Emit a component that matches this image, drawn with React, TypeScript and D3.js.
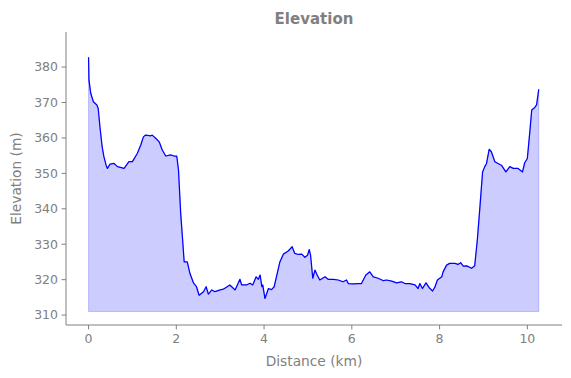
import React from "react";
import * as d3 from "d3";

const distanceKm = [
  0, 0.01, 0.05, 0.11, 0.19, 0.22, 0.26, 0.31, 0.35, 0.4, 0.43, 0.49, 0.58, 0.66, 0.81, 0.92, 1.0, 1.11, 1.19, 1.25,
  1.3, 1.42, 1.45, 1.53, 1.61, 1.68, 1.76, 1.87, 1.95, 2.01, 2.05, 2.1, 2.15, 2.16, 2.18, 2.25, 2.31, 2.39, 2.46, 2.52,
  2.62, 2.68, 2.73, 2.81, 2.88, 3.0, 3.07, 3.22, 3.34, 3.45, 3.49, 3.6, 3.68, 3.74, 3.82, 3.87, 3.91, 3.95, 3.97, 4.02,
  4.1, 4.17, 4.23, 4.3, 4.36, 4.44, 4.55, 4.64, 4.7, 4.78, 4.86, 4.93, 4.99, 5.03, 5.06, 5.11, 5.16, 5.21, 5.27, 5.39,
  5.46, 5.58, 5.69, 5.8, 5.88, 5.92, 6.03, 6.15, 6.22, 6.32, 6.41, 6.49, 6.6, 6.72, 6.79, 6.91, 7.02, 7.13, 7.21, 7.32,
  7.44, 7.51, 7.55, 7.61, 7.69, 7.76, 7.84, 7.89, 7.95, 8.05, 8.08, 8.16, 8.23, 8.35, 8.42, 8.48, 8.54, 8.62, 8.73, 8.8,
  8.86, 8.92, 8.98, 9.03, 9.07, 9.13, 9.18, 9.26, 9.33, 9.41, 9.51, 9.6, 9.68, 9.79, 9.89, 9.94, 10.0, 10.06, 10.1, 10.17,
  10.21, 10.26,
];

const elevationM = [
  382.8, 376.3, 372.6, 370.2, 369.3, 368.3, 363.1, 357.5, 354.7, 352.3, 351.4, 352.6, 352.8, 351.9, 351.4, 353.3, 353.3, 355.6, 358.0, 360.3,
  360.8, 360.6, 360.8, 359.9, 358.9, 356.6, 354.9, 355.2, 354.9, 354.9, 350.9, 338.7, 330.2, 328.3, 325.0, 325.0, 321.8, 319.1, 318.0, 315.6,
  316.6, 318.0, 315.9, 317.1, 316.6, 317.1, 317.3, 318.5, 317.1, 320.1, 318.5, 318.5, 319.0, 318.5, 320.8, 320.1, 321.3, 318.0, 318.5, 314.7,
  317.5, 317.2, 318.0, 321.8, 325.0, 327.2, 328.1, 329.3, 327.4, 327.1, 327.2, 326.3, 326.9, 328.5, 326.9, 320.4, 322.7, 321.3, 319.9, 320.8,
  320.1, 320.1, 319.9, 319.4, 319.9, 318.9, 318.8, 318.9, 318.9, 321.3, 322.2, 320.8, 320.4, 319.7, 319.9, 319.6, 319.1, 319.4, 318.9, 318.9,
  318.5, 317.5, 318.9, 317.5, 319.1, 317.8, 316.8, 317.8, 319.9, 320.8, 322.2, 324.1, 324.6, 324.6, 324.3, 324.8, 323.8, 323.9, 323.2, 323.9,
  331.2, 340.6, 350.4, 351.9, 352.8, 356.8, 356.1, 353.3, 352.8, 352.3, 350.4, 351.9, 351.4, 351.4, 350.4, 353.0, 354.2, 362.2, 367.9, 368.6,
  369.3, 373.7,
];

const fillBase = 311.0;
const xTicks = [0, 2, 4, 6, 8, 10];
const yTicks = [310, 320, 330, 340, 350, 360, 370, 380];
const titleText = "Elevation";
const xLabel = "Distance (km)";
const yLabel = "Elevation (m)";

const W = 571;
const H = 378;
const M = { left: 66, right: 562, top: 32, bottom: 325 };
const GRAY = "#808080";
const FONT = "DejaVu Sans, sans-serif";

export default function App() {
  const x = d3.scaleLinear().domain([-0.514, 10.79]).range([M.left, M.right]);
  const y = d3.scaleLinear().domain([307.2, 389.9]).range([M.bottom, M.top]);
  const pts = distanceKm.map((d, i) => [d, elevationM[i]] as [number, number]);
  const area = d3
    .area<[number, number]>()
    .x((d) => x(d[0]))
    .y0(y(fillBase))
    .y1((d) => y(d[1]))(pts) as string;
  const line = d3
    .line<[number, number]>()
    .x((d) => x(d[0]))
    .y((d) => y(d[1]))(pts) as string;

  return (
    <svg width={W} height={H} style={{ position: "absolute", left: 0, top: 0 }} fontFamily={FONT}>
      <rect width={W} height={H} fill="white" />
      <path d={area} fill="blue" fillOpacity={0.2} stroke="blue" strokeOpacity={0.2} strokeWidth={1} />
      <path d={line} fill="none" stroke="blue" strokeWidth={1.25} strokeLinejoin="round" />
      <line x1={M.left} x2={M.left} y1={M.top} y2={M.bottom} stroke={GRAY} strokeWidth={1} />
      <line x1={M.left} x2={M.right} y1={M.bottom} y2={M.bottom} stroke={GRAY} strokeWidth={1} />
      {xTicks.map((t) => (
        <g key={"x" + t}>
          <line x1={x(t)} x2={x(t)} y1={M.bottom} y2={M.bottom + 4.4} stroke={GRAY} strokeWidth={1} />
          <text x={x(t)} y={M.bottom + 18} textAnchor="middle" fontSize={12.5} fill={GRAY}>
            {t}
          </text>
        </g>
      ))}
      {yTicks.map((t) => (
        <g key={"y" + t}>
          <line x1={M.left - 4.4} x2={M.left} y1={y(t)} y2={y(t)} stroke={GRAY} strokeWidth={1} />
          <text x={M.left - 8} y={y(t)} dy="0.35em" textAnchor="end" fontSize={12.5} fill={GRAY}>
            {t}
          </text>
        </g>
      ))}
      <text x={(M.left + M.right) / 2} y={366} textAnchor="middle" fontSize={13.75} fill={GRAY}>
        {xLabel}
      </text>
      <text
        transform={`translate(${21},${(M.top + M.bottom) / 2}) rotate(-90)`}
        textAnchor="middle"
        fontSize={13.75}
        fill={GRAY}
      >
        {yLabel}
      </text>
      <text x={(M.left + M.right) / 2} y={24} textAnchor="middle" fontSize={15} fontWeight="bold" fill={GRAY}>
        {titleText}
      </text>
    </svg>
  );
}
